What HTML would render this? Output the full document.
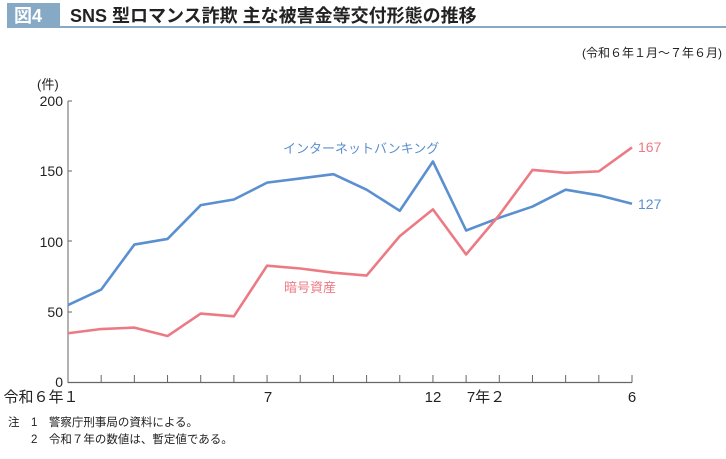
<!DOCTYPE html><html><head><meta charset="utf-8"><style>
body{margin:0;width:726px;height:454px;background:#fff;overflow:hidden;font-family:"Liberation Sans","Noto Sans CJK JP",sans-serif;}
</style></head><body>
<svg width="726" height="454" xmlns="http://www.w3.org/2000/svg" font-family="Liberation Sans, Noto Sans CJK JP, sans-serif">
<rect x="7" y="3" width="53" height="24" fill="#86a9c6"/>
<text x="14" y="22" font-size="18" fill="#fff" font-weight="bold">図4</text>
<line x1="7" y1="27" x2="726" y2="27" stroke="#86a9c6" stroke-width="2"/>
<text x="70" y="22" font-size="18" font-weight="bold" fill="#222">SNS 型ロマンス詐欺 主な被害金等交付形態の推移</text>
<text x="722" y="57" font-size="12" text-anchor="end" fill="#222">(令和６年１月～７年６月)</text>
<text x="37" y="89" font-size="13" fill="#222">(件)</text>
<g font-size="14" fill="#222" text-anchor="end">
<text x="63" y="106">200</text><text x="63" y="176">150</text><text x="63" y="247">100</text><text x="63" y="317">50</text><text x="63" y="387">0</text>
</g>
<line x1="68" y1="101" x2="68" y2="383" stroke="#666" stroke-width="1"/>
<line x1="68" y1="101" x2="72" y2="101" stroke="#666"/>
<line x1="68" y1="171" x2="72" y2="171" stroke="#666"/>
<line x1="68" y1="241" x2="72" y2="241" stroke="#666"/>
<line x1="68" y1="312" x2="72" y2="312" stroke="#666"/>
<line x1="68" y1="382.5" x2="632" y2="382.5" stroke="#666" stroke-width="1.2"/>
<g stroke="#666" id="ticks"></g>
<g font-size="15" fill="#222" text-anchor="middle">
<text x="41" y="402">令和６年１</text><text x="268" y="402">7</text><text x="433" y="402">12</text><text x="486" y="402">7年２</text><text x="632" y="402">6</text>
</g>
<polyline id="blue" fill="none" stroke="#5a8fd0" stroke-width="2.6" stroke-linejoin="round"/>
<polyline id="pink" fill="none" stroke="#ec7a85" stroke-width="2.6" stroke-linejoin="round"/>
<text x="283" y="153" font-size="13" fill="#5a8fd0">インターネットバンキング</text>
<text x="284" y="292" font-size="13" fill="#ec7a85">暗号資産</text>
<text x="638" y="152" font-size="14" fill="#ec7a85">167</text>
<text x="638" y="209" font-size="14" fill="#5a8fd0">127</text>
<g font-size="11.5" fill="#222">
<text x="8" y="426">注　1　警察庁刑事局の資料による。</text>
<text x="8" y="443">　　2　令和７年の数値は、暫定値である。</text>
</g>
</svg>
<script>
var b=[55,66,98,102,126,130,142,145,148,137,122,157,108,117,125,137,133,127];
var p=[35,38,39,33,49,47,83,81,78,76,104,123,91,119,151,149,150,167];
function X(i){return 68+i*564/17}function Y(v){return 382.5-v*1.4075}
document.getElementById('blue').setAttribute('points',b.map(function(v,i){return X(i)+','+Y(v)}).join(' '));
document.getElementById('pink').setAttribute('points',p.map(function(v,i){return X(i)+','+Y(v)}).join(' '));
var t='';for(var i=1;i<18;i++){t+='<line x1="'+X(i)+'" y1="375" x2="'+X(i)+'" y2="382.5"/>';}
document.getElementById('ticks').innerHTML=t;
</script>
</body></html>
